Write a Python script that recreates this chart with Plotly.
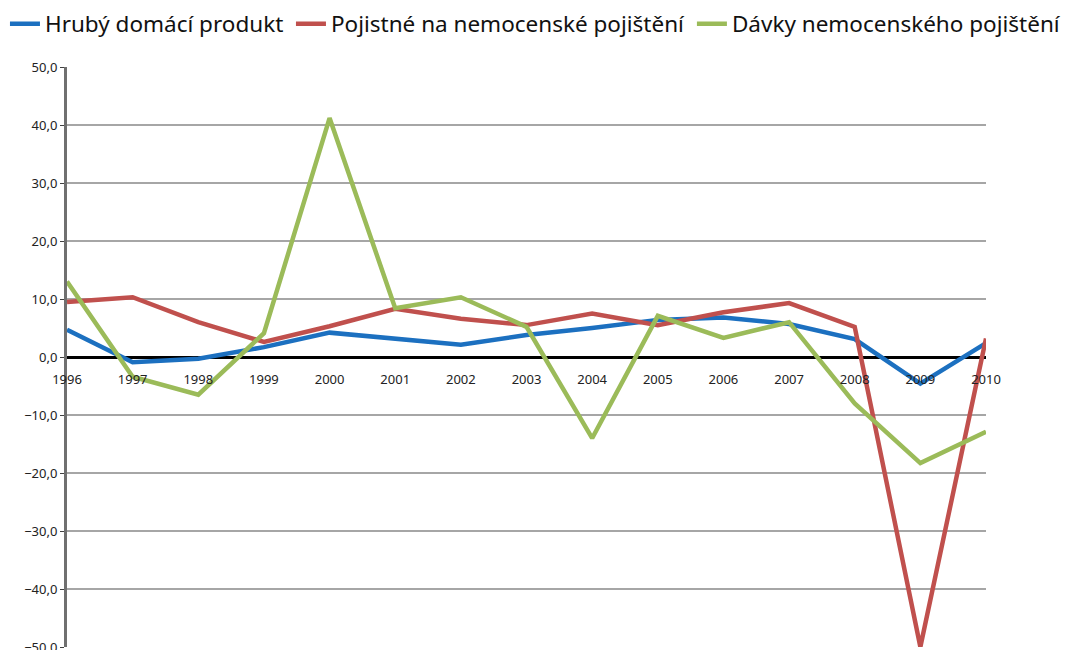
import plotly.graph_objects as go

# Meziroční změny (%)
roky = list(range(1996, 2011))
hdp = [4.7, -0.9, -0.3, 1.7, 4.2, 3.1, 2.1, 3.8, 5.0, 6.4, 6.8, 5.7, 3.1, -4.6, 2.4]
pojistne = [9.5, 10.3, 6.0, 2.6, 5.3, 8.3, 6.6, 5.5, 7.5, 5.5, 7.7, 9.3, 5.2, -50.0, 3.2]
davky = [13.0, -3.4, -6.5, 4.1, 41.2, 8.4, 10.3, 5.2, -14.0, 7.1, 3.3, 6.0, -8.0, -18.3, -12.9]

nazvy = ["Hrubý domácí produkt", "Pojistné na nemocenské pojištění", "Dávky nemocenského pojištění"]
barvy = ["#1C70C0", "#C0504D", "#9BBB59"]

# kazda polozka legendy zvlast, at sedi rozestupy jako v Excelu
legendy = ['legend', 'legend2', 'legend3']
legenda_x = [-0.0675, 0.2437, 0.680]

fig = go.Figure()
for nazev, hodnoty, barva, leg in zip(nazvy, [hdp, pojistne, davky], barvy, legendy):
    fig.add_trace(go.Scatter(x=roky, y=hodnoty, mode='lines', name=nazev, legend=leg,
                             line=dict(color=barva, width=4.5)))

fig.update_layout(
    width=1075, height=650,
    paper_bgcolor='white', plot_bgcolor='white',
    margin=dict(l=59, r=97, t=59, b=11, autoexpand=False),
    separators=', ',
    font=dict(family="Noto Sans", color="#222222"),
    showlegend=True,
)
for leg, lx in zip(legendy, legenda_x):
    fig.update_layout({leg: dict(orientation='h', x=lx, xanchor='left', y=1.074, yanchor='middle',
                                 font=dict(size=22.5, color="#111111"), itemwidth=30)})

fig.update_xaxes(
    range=[1996, 2010], tickmode='array', tickvals=roky, ticktext=[str(r) for r in roky],
    anchor='free', position=0.5, showgrid=False, showline=False, zeroline=False,
    ticks='', tickfont=dict(size=13, color="#222222"), ticklabelstandoff=13,
)
fig.update_yaxes(
    range=[-50, 50], dtick=10, tickformat='.1f',
    showgrid=True, gridcolor='#A6A6A6', gridwidth=1.5,
    zeroline=True, zerolinecolor='black', zerolinewidth=3,
    showline=True, linecolor='#707070', linewidth=3,
    ticks='outside', ticklen=4, tickcolor='#404040',
    tickfont=dict(size=13, color="#222222"),
)

fig.write_html("out.html")
